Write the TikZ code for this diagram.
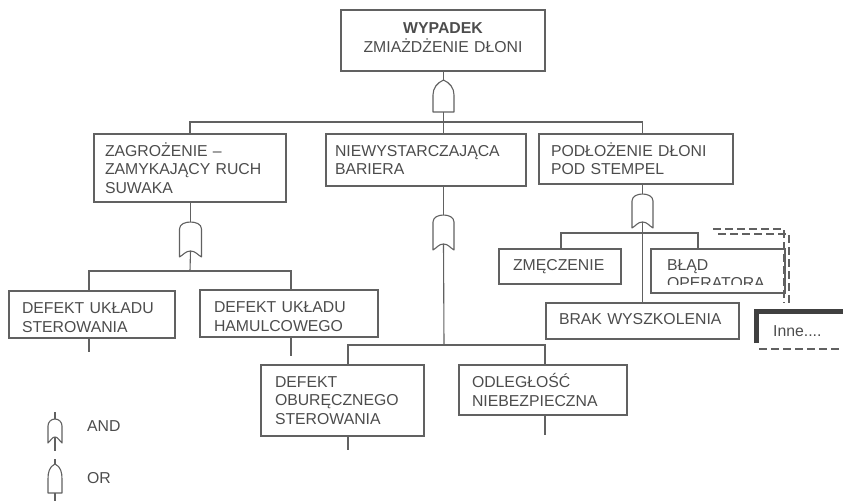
\documentclass[tikz,border=0pt]{standalone}
\usepackage{fontspec}
\setmainfont{Liberation Sans}
\usetikzlibrary{calc}
\definecolor{ink}{gray}{0.3}
\definecolor{wire}{gray}{0.38}
\tikzset{
  wireline/.style={draw=wire, line width=1.1pt},
  dashline/.style={wireline, dash pattern=on 8pt off 4pt},
  box/.style n args={3}{wireline, anchor=north west, outer sep=0pt, inner ysep=0pt, text=ink, align=left,
    font=\fontsize{15.8}{18.3}\selectfont, inner xsep=#3pt, text width=#1pt-2*#3pt, minimum height=#2pt},
  label/.style={text=ink, font=\fontsize{15.8}{18.3}\selectfont, inner sep=0pt, anchor=west},
  % flat bottom, as in the key: OR
  orgate/.style={inner sep=0pt, outer sep=0pt, minimum width=#1pt, append after command={\pgfextra{
    \draw[wireline, line join=round] (\tikzlastnode.south west) -- ($(\tikzlastnode.north west)+(0,15)$)
      to[out=90,in=205] (\tikzlastnode.north) to[out=-25,in=90] ($(\tikzlastnode.north east)+(0,15)$)
      -- (\tikzlastnode.south east) -- cycle;}}},
  % hollow bottom, as in the key: AND
  andgate/.style={inner sep=0pt, outer sep=0pt, minimum width=#1pt, append after command={\pgfextra{
    \draw[wireline, line join=round] ($(\tikzlastnode.south west)+(0,6)$) -- ($(\tikzlastnode.north west)+(0,7)$)
      to[out=90,in=180] (\tikzlastnode.north) to[out=0,in=90] ($(\tikzlastnode.north east)+(0,7)$)
      -- ($(\tikzlastnode.south east)+(0,6)$) to[out=150,in=0] (\tikzlastnode.south)
      to[out=180,in=30] cycle;}}}
}
\begin{document}
\begin{tikzpicture}[x=1pt, y=-1pt]
  \useasboundingbox (0,0) rectangle (843,501);

  \node[box={204}{61}{10}, align=center, text depth=24pt] (WYP) at (341,10) {\textbf{WYPADEK}\\ZMIAŻDŻENIE DŁONI};
  \node[box={192}{68}{11}] (ZAG) at (94,134) {ZAGROŻENIE –\\ZAMYKAJĄCY RUCH\\SUWAKA};
  \node[box={200}{52}{9}] (BAR) at (326,134) {NIEWYSTARCZAJĄCA\\BARIERA};
  \node[box={194}{50}{12}] (POD) at (539,134) {PODŁOŻENIE DŁONI\\POD STEMPEL};

  \node[box={166}{47}{13}, text height=17pt] (STE) at (9,291) {DEFEKT UKŁADU\\STEROWANIA};
  \node[box={178}{47}{14}, text height=17pt] (HAM) at (200,290) {DEFEKT UKŁADU\\HAMULCOWEGO};
  \node[box={163}{71}{14}] (OBU) at (261,365) {DEFEKT\\OBURĘCZNEGO\\STEROWANIA};
  \node[box={168}{50}{13}] (ODL) at (459,365) {ODLEGŁOŚĆ\\NIEBEZPIECZNA};
  \node[box={122}{35}{14}] (ZME) at (499,249) {ZMĘCZENIE};
  \node[box={134}{44}{16}, text height=17pt] (BLA) at (651,249) {BŁĄD\\OPERATORA};
  \node[box={193}{36}{13}, text depth=4pt] (BRA) at (546,303) {BRAK WYSZKOLENIA};

  % the lower part of the scanned word is cut off
  \fill[white] (652,285) rectangle (784,292);

  \node[orgate=21, minimum height=32pt] (G1) at (443.5,96) {};
  \node[andgate=22, minimum height=29pt] (G2) at (190.5,236.5) {};
  \node[andgate=21, minimum height=29pt] (G3) at (443.5,229.5) {};
  \node[andgate=21, minimum height=28pt] (G4) at (642.5,208) {};

  \coordinate (B1) at (443,122);
  \coordinate (B2) at (190,271);
  \coordinate (B3) at (444,345);
  \coordinate (B4) at (642,233);

  \draw[wireline] (G1 |- WYP.south) -- (G1.north);
  \draw[wireline] (G1.south) -- (G1 |- BAR.north);
  \draw[wireline] (ZAG.north) |- (B1) -| (G4 |- POD.north);

  \draw[wireline] (G2 |- ZAG.south) -- (G2.north);
  \draw[wireline] (G2.south) -- (B2);
  \coordinate (S1) at (89,352);
  \coordinate (S2) at (291,356);
  \draw[wireline] (S1 |- STE.north) |- (B2) -| (S2 |- HAM.north);
  \draw[wireline] (S1 |- STE.south) -- (S1);
  \draw[wireline] (S2 |- HAM.south) -- (S2);

  \draw[wireline] (G3 |- BAR.south) -- (G3.north);
  \draw[wireline] (G3.south) -- (B3);
  \coordinate (S3) at (348,450);
  \coordinate (S4) at (545,435);
  \draw[wireline] (S3 |- OBU.north) |- (B3) -| (S4 |- ODL.north);
  \draw[wireline] (S3 |- OBU.south) -- (S3);
  \draw[wireline] (S4 |- ODL.south) -- (S4);

  \draw[wireline] (G4 |- POD.south) -- (G4.north);
  \draw[wireline] (G4.south) -- (G4 |- BRA.north);
  \coordinate (S5) at (561,249);
  \coordinate (S6) at (698,249);
  \draw[wireline] (S5) |- (B4) -| (S6);

  % dashed outline round the operator box
  \coordinate (D1) at (713,229);
  \coordinate (D2) at (784,229);
  \coordinate (D3) at (718,234);
  \coordinate (D4) at (789,234);
  \draw[dashline] (D1) -- (D2) -- (D2 |- BRA.north);
  \draw[dashline] (D3) -- (D4) -- (D4 |- BRA.north);

  \node[label] (INN) at (773,331) {Inne....};
  \coordinate (I1) at (756,343);
  \coordinate (I2) at (756,311);
  \coordinate (I3) at (843,311);
  \coordinate (I4) at (759,349);
  \coordinate (I5) at (843,349);
  \draw[draw=black!75, line width=5pt] (I1) -- (I2) -- (I3);
  \draw[dashline] (I4) -- (I5);

  \node[andgate=14, minimum height=18pt] (KA) at (55,428) {};
  \node[orgate=14, minimum height=29pt] (KO) at (55,478.5) {};
  \node[label] (AND) at (87,426) {AND};
  \node[label] (OR) at (87,478) {OR};
  \coordinate (K1) at (55,412);
  \coordinate (K2) at (55,451);
  \coordinate (K3) at (55,459);
  \coordinate (K4) at (55,501);
  \draw[wireline] (K1) -- (KA.north);
  \draw[wireline] (KA.south) -- (K2);
  \draw[wireline] (K3) -- (KO.north);
  \draw[wireline] (KO.south) -- (K4);
\end{tikzpicture}
\end{document}
